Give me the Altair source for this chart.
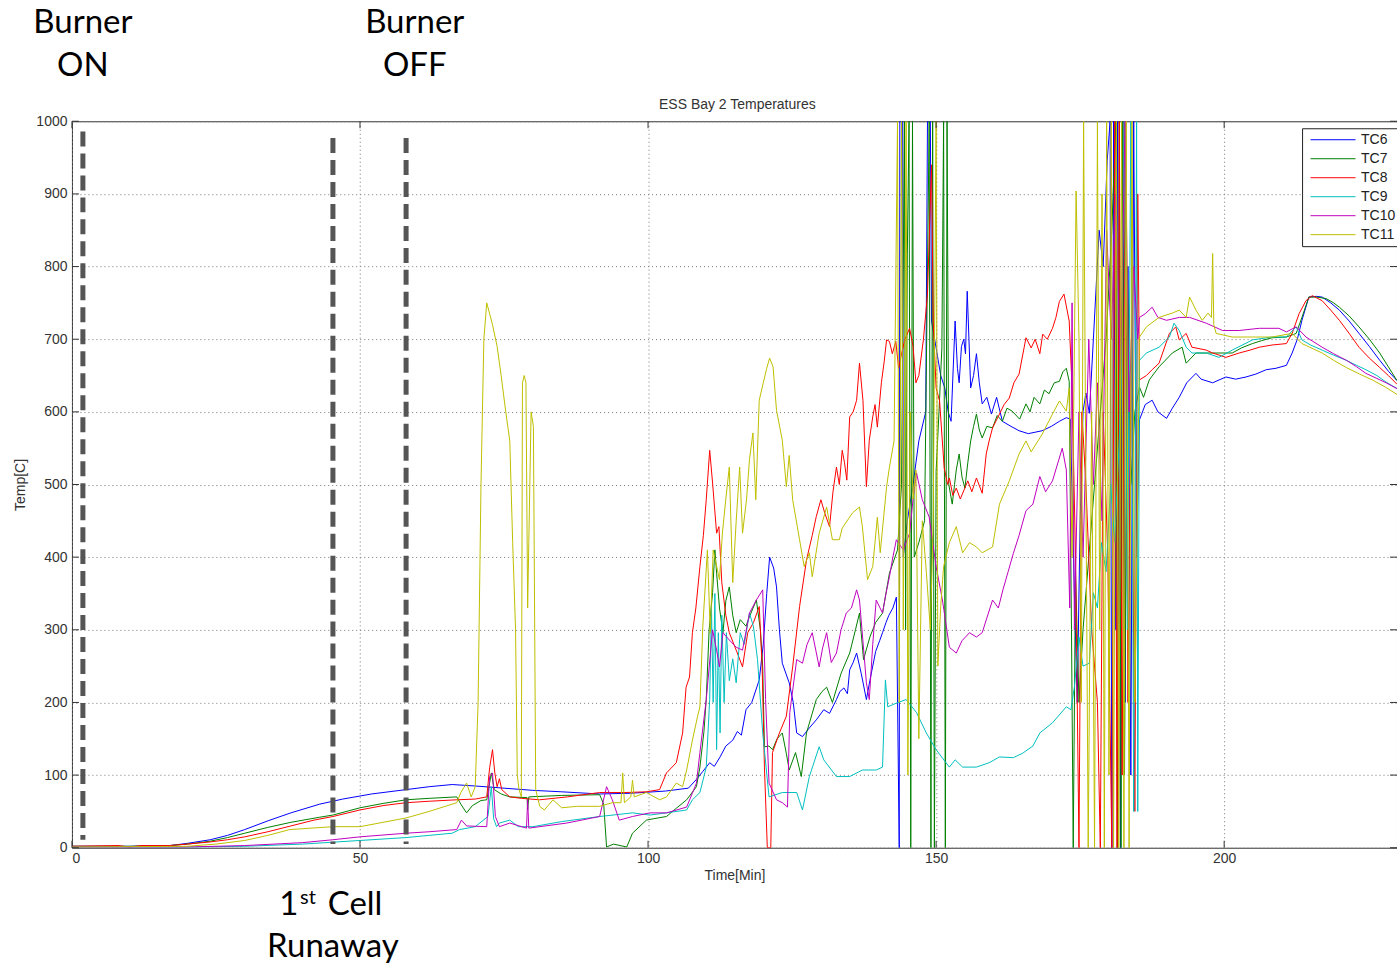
import altair as alt
import pandas as pd

SERIES = ["TC6", "TC7", "TC8", "TC9", "TC10", "TC11"]
COLORS = ["#0000FF", "#008000", "#FF0000", "#00BFBF", "#BF00BF", "#BFBF00"]

X_TICKS = [0, 50, 100, 150, 200]
Y_TICKS = [0, 100, 200, 300, 400, 500, 600, 700, 800, 900, 1000]

TITLE = "ESS Bay 2 Temperatures"
TITLE_T = 115.5
TITLE_V = 1022

# event markers (time, top, bottom)
EVENT_T = [1.9, 45.3, 58.0]
EVENT_TOP = [986, 977, 977]
EVENT_BOT = [11, 5, 5]

# annotation texts
ANN_TEXT = ["Burner", "ON", "Burner", "OFF", "1", "st", "Cell", "Runaway"]
ANN_T = [1.9, 1.9, 59.5, 59.5, 39.3, 39.6, 44.4, 45.3]
ANN_V = [1122, 1062, 1122, 1062, -92, -78, -92, -151]
ANN_SIZE = [33, 33, 33, 33, 33, 20, 33, 33]
ANN_ALIGN = ["center", "center", "center", "center", "right", "left", "left", "center"]

tc6 = [(0,2),(10,2),(17,3),(20,6),(24,11),(27,17),(30,25),(34,37),(38,48),(43,60),(47,67),(52,74),(58,80),(62,84),(66,87),(70,85),(75,82),(80,79),(85,77),(91.6,74),(97,75),(103,78),(107,82),(108.5,95),(109.5,105),(110.7,117),(111.5,112),(112.5,125),(113.5,140),(114.7,148),(115.5,160),(116.2,155),(117,190),(118,200),(119.3,231),(120,280),(120.6,350),(121.1,400),(121.8,385),(122.3,359),(122.8,300),(123.3,254),(124.5,227),(125.2,200),(125.8,158),(126.8,153),(128,165),(129.2,176),(130.5,190),(131.5,185),(132.7,204),(133.3,215),(134,220),(134.6,212),(135,245),(135.6,255),(136.2,268),(137,240),(137.9,204),(138.5,230),(139,250),(139.5,270),(140.2,285),(140.7,296),(141.3,310),(141.8,320),(142.5,330),(143.1,345),(143.6,0),(143.7,1000),(144.2,1000),(144.3,400),(145,450),(146,500),(147,560),(148.2,600),(148.5,1000),(149,1000),(149.2,725),(150,688),(150.8,650),(151.5,633),(152.1,600),(152.6,587),(153.3,725),(153.7,660),(154,640),(154.4,690),(154.8,700),(155.1,680),(155.4,766),(155.7,700),(156,633),(156.5,650),(157,680),(157.5,640),(158,611),(158.8,620),(159.6,597),(160.5,620),(161.5,587),(163,580),(164.4,574),(166,570),(168.4,574),(170,580),(171.4,587),(172.6,592),(173.3,590),(174,350),(174.5,200),(175,450),(175.5,600),(176,626),(176.6,598),(177.3,700),(178.3,850),(179,800),(179.7,946),(180.2,1000),(180.5,0),(180.8,1000),(181.2,300),(181.5,1000),(182,0),(182.4,1000),(182.8,200),(183.3,800),(183.8,100),(184.3,1000),(184.8,400),(185.3,589),(186.3,610),(187.5,616),(188.5,600),(190,591),(191,605),(192.2,620),(193.5,640),(195.1,653),(196,645),(198,640),(200.3,648),(202,645),(203.8,648),(205.5,652),(207.3,658),(209,660),(210.8,664),(211.8,681),(212.7,700),(213.5,726),(214.7,758),(216,759),(217,758),(218.5,750),(220,740),(221.7,725),(223.4,708),(225.2,690),(227,671),(228.5,656),(230,643)]

tc7 = [(0,2),(10,2),(17,3),(20,5),(24,9),(27,14),(30,20),(34,28),(38,35),(43,42),(45.3,45),(50,55),(54,61),(58,66),(62,68),(66.8,70),(67.5,60),(68.5,48),(69.5,58),(71,65),(72,66),(72.8,103),(73.3,80),(74.5,74),(76,70),(79,69),(79.1,52),(79.3,70),(85,72),(91.6,73),(92.3,60),(92.8,1),(94,5),(96.3,1),(97.3,20),(99.7,38),(101,40),(103.2,43),(105,55),(106.7,66),(108.4,84),(109,111),(109.7,160),(110.1,204),(110.6,300),(111.2,351),(111.6,410),(111.9,378),(112.4,330),(113,296),(113.5,340),(114.1,359),(114.7,320),(115.3,296),(116,314),(117,305),(117.6,318),(118.8,341),(119.5,300),(119.9,249),(120.2,139),(121,140),(121.6,135),(122.4,150),(123.3,158),(124,130),(124.5,107),(125.6,131),(126.6,98),(127.5,158),(128.5,185),(129.2,204),(130.2,215),(131,221),(132,200),(133.5,240),(135,268),(136,300),(136.7,323),(137.4,259),(138.5,290),(139.5,310),(140.7,323),(141.9,378),(143.3,410),(144,500),(144.5,1000),(144.7,300),(145,817),(145.3,1000),(145.6,0),(145.9,1000),(146.2,400),(147,420),(148,450),(148.8,1000),(149.1,0),(149.4,1000),(149.7,0),(150,518),(150.5,600),(151,688),(151.3,1000),(151.6,0),(151.9,1000),(152.2,500),(152.8,473),(153.2,500),(153.5,520),(154,542),(154.5,510),(155,495),(155.5,530),(156,560),(156.5,580),(157,597),(157.5,575),(158,564),(158.8,580),(159.8,578),(160.6,595),(161.5,587),(162.3,605),(163.2,601),(164.5,590),(165.6,611),(166.3,600),(167,620),(168,611),(168.8,630),(169.6,625),(170.5,640),(171.4,642),(172,655),(172.6,660),(173.1,642),(173.5,300),(173.8,0),(174.2,380),(174.8,200),(175.5,300),(176.5,400),(177.5,500),(178.5,600),(179.5,700),(180.5,850),(181.2,1000),(181.5,0),(181.8,1000),(182.1,0),(182.4,1000),(182.7,100),(183.2,800),(183.8,500),(184.5,600),(185.3,634),(186,620),(187,644),(188.7,662),(191,681),(192.7,689),(193.4,667),(195.1,681),(198,681),(201.4,681),(203,688),(204.9,694),(206.5,698),(208.3,702),(210.8,703),(212.5,708),(213.5,730),(214.7,758),(216,758),(217.7,756),(219,750),(220,744),(221.7,732),(223.4,717),(225.2,700),(227,681),(228.5,662),(230,643)]

tc8 = [(0,2),(8,3),(10,1),(12,3),(17,3),(20,5),(24,8),(27,11),(30,15),(34,22),(38,30),(42,38),(45.3,43),(50,52),(54,58),(58,62),(62,64),(66.8,66),(70,67),(72,70),(72.5,110),(73,135),(73.4,103),(73.8,84),(74.2,95),(74.6,80),(76,70),(78,68),(81.2,66),(86,70),(91.6,76),(96,76),(99.7,77),(102,80),(103.2,103),(104.9,117),(106,158),(106.6,221),(107.2,235),(107.7,296),(108.3,330),(109,387),(109.6,430),(110.1,479),(110.7,547),(111.2,502),(111.9,433),(112.3,442),(112.8,365),(113.5,320),(114.1,296),(115.3,272),(116.4,249),(117.3,296),(118.3,310),(119.3,332),(119.8,250),(120.2,111),(120.7,0),(121.3,0),(121.6,131),(122.8,158),(124,181),(125.1,249),(126.3,332),(127.5,396),(128.5,430),(129.2,456),(130,479),(130.7,460),(131.5,442),(132.1,490),(132.7,524),(133.2,500),(133.7,547),(134.1,530),(134.5,506),(135,593),(135.6,600),(136.2,616),(136.7,667),(137.3,616),(137.9,497),(138.4,561),(139,593),(139.4,610),(139.8,579),(140.5,640),(141,670),(141.4,699),(141.9,697),(142.4,680),(143,697),(143.5,660),(144,680),(144.6,700),(145.4,715),(146,690),(146.5,640),(147,650),(147.8,700),(148.5,762),(149.2,940),(149.5,725),(150,633),(150.6,615),(151.4,523),(152,500),(152.3,509),(152.9,485),(153.5,495),(154.2,480),(155.5,505),(156.2,490),(157,509),(158,488),(158.7,542),(159.2,560),(159.8,578),(161,597),(161.8,610),(162.7,619),(163.5,640),(164.4,652),(165.6,702),(166.5,688),(167.2,700),(168,680),(168.5,707),(169.3,700),(170.2,715),(170.8,730),(171.4,752),(172.2,762),(173.1,725),(173.6,633),(174.2,400),(174.8,0),(175.3,600),(176,500),(177,300),(178,200),(178.5,0),(179,600),(179.8,400),(180.5,0),(181,1000),(181.4,0),(181.8,1000),(182.3,100),(182.8,1000),(183.3,200),(183.9,700),(184.5,50),(185,900),(185.3,644),(186.5,650),(187.5,658),(188.7,667),(190.5,708),(191.6,717),(192.2,699),(193.4,708),(194.4,689),(196.9,685),(198,681),(200.3,675),(202.6,681),(204.5,685),(206.1,689),(208.3,692),(210.8,694),(211.8,708),(213,735),(214.2,753),(215.3,760),(217,753),(218.5,740),(220,726),(221.7,708),(223.4,689),(225.2,674),(227,661),(228.5,650),(230,638)]

tc9 = [(0,1),(20,1),(30,2),(40,5),(50,10),(58,14),(62,17),(66,20),(67.3,25),(70,29),(72.2,43),(72.8,84),(73.2,40),(73.7,29),(74.2,34),(76,38),(77.5,29),(80,29),(85,36),(91.6,43),(97.3,48),(100.3,45),(103.2,48),(106.7,52),(107.7,66),(109,76),(110.1,111),(110.7,204),(111,332),(111.3,200),(111.6,350),(111.9,135),(112.2,296),(112.5,158),(112.8,320),(113.2,200),(113.6,296),(114.1,230),(114.7,260),(115.3,227),(116,296),(116.7,280),(117.6,323),(118.3,304),(119,259),(119.9,158),(121,70),(123.3,76),(125.8,76),(126.8,52),(128,98),(129.7,139),(130.5,121),(132.7,98),(135,98),(137.2,107),(139.6,107),(140.7,111),(141.2,231),(141.6,194),(143.1,199),(144.8,204),(146.6,186),(148.3,158),(150,135),(152.3,111),(153.3,121),(154.6,111),(157,111),(159.2,117),(161,125),(163.4,124),(165,130),(166.8,140),(168,158),(170.2,172),(172.6,194),(173.4,190),(174,221),(174.8,290),(175.5,250),(176.6,254),(177.3,351),(178,330),(178.7,420),(179.5,380),(180.3,500),(181,420),(182,600),(182.7,1000),(183.2,300),(183.8,1000),(184.3,50),(184.8,1000),(185,50),(185.3,671),(186.5,681),(188.7,689),(190.5,703),(191.3,722),(192.2,712),(193.4,689),(194.4,681),(196.9,681),(199.1,675),(201.4,685),(204.9,699),(208.3,703),(210.8,703),(212.5,717),(213.5,699),(215,692),(217,685),(219,678),(221.2,671),(223,664),(224.6,658),(226.5,650),(228.1,641),(230,632)]

tc10 = [(0,1),(20,1),(30,3),(40,7),(45.3,11),(50,15),(58,20),(62,22),(66.8,25),(67.6,38),(68.5,30),(72,29),(72.5,98),(73,103),(73.5,43),(74.2,29),(76,34),(78.9,27),(79.1,66),(79.3,27),(85.9,34),(91.6,43),(92.8,84),(93.8,66),(95,38),(97.3,43),(100.3,48),(103.2,48),(106.7,56),(108.4,89),(109,131),(110.1,204),(111.2,300),(111.9,272),(112.4,249),(113,296),(114.1,286),(115.3,276),(116.4,272),(117.6,323),(118.8,341),(119.9,355),(120.4,204),(121,89),(122.3,66),(123.3,62),(124.2,56),(124.6,186),(125.8,259),(126.8,254),(127.6,280),(128.5,296),(129.7,249),(130.3,275),(131,296),(131.8,255),(132.7,268),(133.5,300),(134.4,323),(135.3,330),(136.2,355),(136.7,341),(137.9,227),(138.4,204),(139,280),(139.6,341),(140.7,323),(141.3,350),(141.9,373),(142.5,400),(143.1,424),(144.3,410),(145.4,433),(146,480),(146.6,516),(147.6,479),(148.8,455),(150,387),(151.1,341),(152.3,276),(153.5,268),(154.5,285),(155.8,296),(157,290),(158,296),(159.8,341),(160.8,330),(161.6,355),(162.5,380),(163.4,405),(164.4,430),(165.6,464),(166.8,473),(168,511),(169,490),(170.2,505),(171.9,550),(172.6,520),(173.2,330),(173.6,750),(174,300),(174.8,600),(175.5,400),(176.5,700),(177.3,500),(178,640),(178.8,450),(179.6,850),(180.4,700),(181.2,900),(182,650),(182.8,1000),(183.5,600),(184.3,800),(185,700),(185.3,730),(186.3,735),(187.5,744),(188.5,730),(190,726),(192.2,730),(194,730),(196.9,722),(199.7,712),(202.6,712),(206.1,715),(209.5,715),(210.8,710),(212.5,717),(214.2,703),(217,689),(219,680),(221.2,671),(223,662),(224.6,653),(226.5,646),(228.1,640),(230,632)]

tc11 = [(0,1),(20,2),(25,5),(30,10),(34,17),(37.8,25),(45.3,29),(50,29),(54,35),(58,41),(62,50),(66.8,62),(67.5,76),(68.5,89),(69.3,70),(70,84),(70.5,200),(71,500),(71.5,700),(72,750),(72.5,735),(73,720),(73.8,690),(74.5,650),(75.3,600),(76,560),(76.5,420),(77,300),(77.3,100),(77.6,80),(78,70),(78.2,640),(78.5,650),(78.8,640),(79.1,330),(79.3,420),(79.7,600),(80.1,580),(80.5,80),(81.2,57),(82,52),(83.5,66),(85,55),(87.6,57),(91.6,57),(93.8,62),(95.3,62),(95.6,103),(95.9,62),(97,70),(97.3,93),(97.6,70),(99.7,76),(102,66),(103.2,70),(104.9,89),(106,84),(106.7,107),(107.7,148),(108.6,181),(109,194),(109.5,304),(110.3,410),(110.8,296),(111.3,410),(112.4,369),(112.9,433),(113.5,480),(114.1,524),(114.7,365),(115.3,450),(115.9,524),(116.4,433),(117.1,480),(117.6,534),(118.2,571),(118.7,479),(119.3,616),(120,640),(120.6,660),(121.1,674),(121.7,662),(122.3,602),(123.3,561),(124,497),(124.5,540),(125.1,479),(126.3,424),(127.1,387),(128,406),(128.5,373),(129.7,433),(131,469),(132,424),(133.2,424),(133.7,440),(135.5,461),(136.7,469),(137.2,442),(138.1,369),(139,387),(139.8,455),(140.3,406),(141.4,497),(141.9,524),(142.7,560),(143.3,1000),(143.6,200),(144,1000),(144.3,300),(144.8,1000),(145.1,100),(145.5,600),(146,480),(146.5,520),(147,150),(147.6,450),(148.3,380),(149,300),(149.5,450),(150,1000),(150.3,250),(150.8,332),(151.3,387),(152.3,420),(153.5,442),(154.6,406),(155.8,420),(157,414),(158,406),(159.8,414),(161,473),(162.7,505),(164.4,542),(165.6,560),(166.5,545),(168.4,569),(170.2,597),(171.4,615),(172.6,601),(173.1,633),(173.6,400),(174.3,904),(174.8,700),(175.2,200),(175.6,1000),(176,500),(176.4,0),(177,600),(177.5,0),(178,1000),(178.4,300),(178.8,900),(179.2,0),(179.6,1000),(180,100),(180.4,1000),(180.8,0),(181.3,1000),(181.7,0),(182.2,1000),(182.6,0),(183,1000),(183.5,0),(184,1000),(184.5,200),(185,500),(185.3,703),(186.5,717),(188.7,730),(191,736),(192.2,740),(193.4,730),(194,758),(195.1,740),(196.2,726),(197.2,736),(197.8,730),(198,818),(198.2,720),(198.6,708),(201.4,703),(204.9,703),(208.3,703),(211.8,708),(213.5,694),(217,681),(219,671),(221.2,661),(223.5,652),(225.7,644),(228,634),(230,624)]

rows = []
for name, pts in zip(SERIES, [tc6, tc7, tc8, tc9, tc10, tc11]):
    for i, (t, v) in enumerate(pts):
        rows.append({"series": name, "t": t, "v": v, "idx": i})
df = pd.DataFrame(rows)

ev = pd.DataFrame({"t": EVENT_T, "top": EVENT_TOP, "bot": EVENT_BOT})
ann = pd.DataFrame({"text": ANN_TEXT, "t": ANN_T, "v": ANN_V, "size": ANN_SIZE, "align": ANN_ALIGN})
ttl = pd.DataFrame({"text": [TITLE], "t": [TITLE_T], "v": [TITLE_V]})
xt = pd.DataFrame({"t": X_TICKS})
yt = pd.DataFrame({"v": Y_TICKS})

W, H = 1326, 727
xs = alt.Scale(domain=[0, 230], nice=False, zero=False)
ys = alt.Scale(domain=[0, 1000], nice=False, zero=False)

x_axis = alt.Axis(values=X_TICKS, title="Time[Min]", grid=True, gridDash=[1, 3], gridColor="#777",
                  ticks=False, domain=False, labelPadding=4, titlePadding=3, format="d")
y_axis = alt.Axis(values=Y_TICKS, title="Temp[C]", grid=True, gridDash=[1, 3], gridColor="#777",
                  ticks=False, domain=False, labelPadding=5, titlePadding=8, format="d")

lines = alt.Chart(df).mark_line(clip=True, strokeWidth=1).encode(
    x=alt.X("t:Q", scale=xs, axis=x_axis),
    y=alt.Y("v:Q", scale=ys, axis=y_axis),
    color=alt.Color("series:N", scale=alt.Scale(domain=SERIES, range=COLORS),
                    legend=alt.Legend(title=None, orient="none", legendX=1231, legendY=7,
                                      symbolType="stroke", symbolSize=2025, symbolStrokeWidth=1,
                                      symbolOffset=6,
                                      labelFont="Liberation Sans", labelFontSize=14, labelColor="#222",
                                      strokeColor="#222", fillColor="#ffffff", padding=2,
                                      rowPadding=0, clipHeight=19, labelOffset=5)),
    detail="series:N",
    order=alt.Order("idx:Q"),
)

events = alt.Chart(ev).mark_rule(color="#555555", strokeWidth=5, strokeDash=[15, 7]).encode(
    x=alt.X("t:Q", scale=xs), y=alt.Y("top:Q", scale=ys), y2="bot:Q")

text_layers = []
for al in ["center", "left", "right"]:
    sub = ann[ann["align"] == al]
    text_layers.append(
        alt.Chart(sub).mark_text(font="Lato", color="#000000", baseline="alphabetic", align=al).encode(
            x=alt.X("t:Q", scale=xs), y=alt.Y("v:Q", scale=ys), text="text:N",
            size=alt.Size("size:Q", scale=None, legend=None)))

title_layer = alt.Chart(ttl).mark_text(font="Liberation Sans", fontSize=14, color="#333333",
                                       baseline="middle", align="center").encode(
    x=alt.X("t:Q", scale=xs), y=alt.Y("v:Q", scale=ys), text="text:N")

tick_style = dict(color="#333333", strokeWidth=1)
xt_bot = alt.Chart(xt).mark_rule(**tick_style).encode(x=alt.X("t:Q", scale=xs), y=alt.value(H), y2=alt.value(H - 7))
xt_top = alt.Chart(xt).mark_rule(**tick_style).encode(x=alt.X("t:Q", scale=xs), y=alt.value(0), y2=alt.value(7))
yt_left = alt.Chart(yt).mark_rule(**tick_style).encode(y=alt.Y("v:Q", scale=ys), x=alt.value(0), x2=alt.value(7))
yt_right = alt.Chart(yt).mark_rule(**tick_style).encode(y=alt.Y("v:Q", scale=ys), x=alt.value(W - 7), x2=alt.value(W))

chart = alt.layer(lines, events, *text_layers, title_layer, xt_bot, xt_top, yt_left, yt_right).properties(
    width=W, height=H,
    autosize="none",
    background="white",
    padding={"left": 72, "top": 121, "right": 0, "bottom": 121},
).configure_view(stroke="#333333", strokeWidth=1).configure_axis(
    labelFont="Liberation Sans", labelFontSize=14, labelColor="#333333",
    titleFont="Liberation Sans", titleFontSize=14, titleFontWeight="normal", titleColor="#333333",
)

chart.save("out.html", embed_options={"renderer": "svg", "actions": False})
